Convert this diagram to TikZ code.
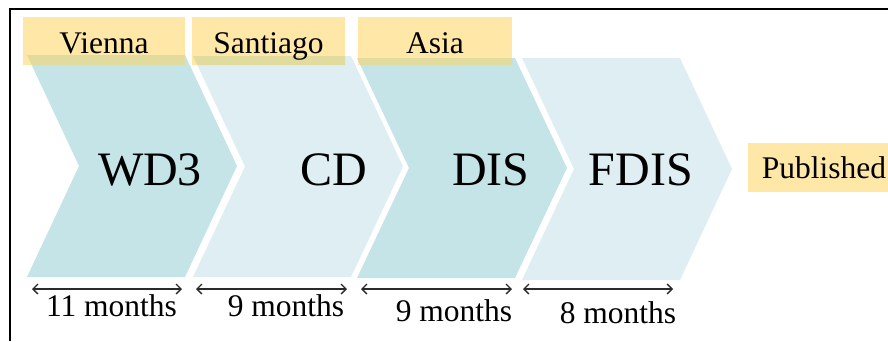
\documentclass[tikz,border=0pt]{standalone}
\usepackage{fontspec}
\setmainfont{Liberation Serif}
\usetikzlibrary{arrows.meta}
\definecolor{tealA}{HTML}{C5E4E7}
\definecolor{tealB}{HTML}{DFEEF3}
\definecolor{yel}{HTML}{FFE8A7}
\definecolor{khaki}{HTML}{E2DB9E}
\definecolor{arr}{HTML}{2A2A2A}
\tikzset{
  big/.style={font=\fontsize{48}{50}\selectfont, anchor=base, inner sep=0pt},
  small/.style={font=\fontsize{31.5}{34}\selectfont, anchor=base, inner sep=0pt},
  span/.style={draw=arr, line width=1.3pt, arrows={Straight Barb[length=5pt,width=10pt]-Straight Barb[length=5pt,width=10pt]}},
}
\newcommand{\chev}[3]{(#1,#2) -- ++(158,0) -- (#1+210,{(#2+#3)/2}) -- (#1+158,#3) -- (#1,#3) -- (#1+52,{(#2+#3)/2}) -- cycle}
\begin{document}
\begin{tikzpicture}[x=1pt,y=-1pt]
\useasboundingbox (0,0) rectangle (888,341);
\fill[white] (0,0) rectangle (888,341);
% frame
\draw[black, line width=1.8pt] (10,341) -- (10,8.7) -- (888,8.7);
% chevrons
\fill[tealA] \chev{27}{55}{277};
\fill[tealB] \chev{193}{56}{277};
\fill[tealA] \chev{357}{58}{278};
\fill[tealB] \chev{522}{58}{280};
% yellow boxes
\fill[yel] (23,17) rectangle (185,65);
\fill[yel] (192,17) rectangle (345,65);
\fill[yel] (358,17) rectangle (512,65);
\fill[yel] (748,143) rectangle (888,192);
% overlaps
\begin{scope}
  \clip (23,17) rectangle (185,65) (192,17) rectangle (345,65) (358,17) rectangle (512,65);
  \fill[khaki] \chev{27}{55}{277};
  \fill[khaki] \chev{193}{56}{277};
  \fill[khaki] \chev{357}{58}{278};
\end{scope}
% labels
\node[small] (vienna) at (104,53) {Vienna};
\node[small] (santiago) at (268.5,53) {Santiago};
\node[small] (asia) at (435,53) {Asia};
\node[big] (wd3) at (150,185) {WD3};
\node[big] (cd) at (334,185) {CD};
\node[big] (dis) at (491,185) {DIS};
\node[big] (fdis) at (641,185) {FDIS};
\node[small] (pub) at (824,178) {Published};
% spans
\coordinate (a1) at (32,289); \coordinate (b1) at (182,289);
\coordinate (a2) at (196,289); \coordinate (b2) at (347,289);
\coordinate (a3) at (361,289); \coordinate (b3) at (512,289);
\coordinate (a4) at (523,289); \coordinate (b4) at (673,289);
\draw[span] (a1) -- (b1);
\draw[span] (a2) -- (b2);
\draw[span] (a3) -- (b3);
\draw[span] (a4) -- (b4);
\node[small] (m1) at (111.5,316) {11 months};
\node[small] (m2) at (286,316) {9 months};
\node[small] (m3) at (454,321) {9 months};
\node[small] (m4) at (618,323) {8 months};
\end{tikzpicture}
\end{document}
